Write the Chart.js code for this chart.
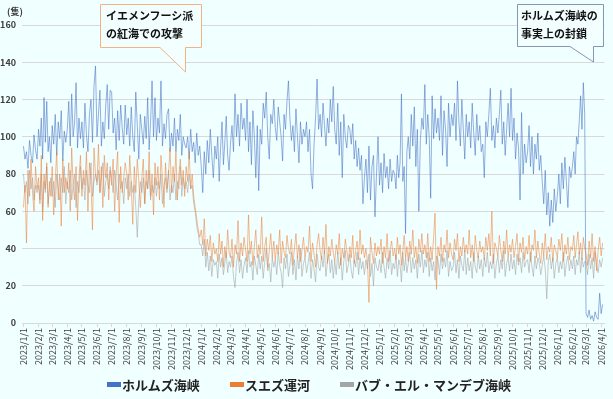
<!DOCTYPE html>
<html><head><meta charset="utf-8">
<script src="https://cdn.jsdelivr.net/npm/chart.js@4"></script>
<style>
html,body{margin:0;padding:0;background:#F0FFFF;}
#wrap{position:relative;width:613px;height:399px;background:#F0FFFF;font-family:'Noto Sans CJK JP',sans-serif;}
#c{position:absolute;left:0;top:0;}
.t{position:absolute;font-weight:bold;color:#111;white-space:nowrap;}
.co{font-size:11px;line-height:18px;}
.lg{position:absolute;top:376px;height:17px;display:flex;align-items:center;font-size:13px;font-weight:bold;color:#222;white-space:nowrap;}
.lg i{display:inline-block;width:14px;height:5px;margin-right:1px;}
</style></head>
<body><div id="wrap">
<canvas id="c" width="613" height="399"></canvas>
<svg width="613" height="399" style="position:absolute;left:0;top:0">
<path d="M100.5,4.5 H201.5 V47.5 H185.5 V72 L160,47.5 H100.5 Z" fill="#F3FFFF" stroke="#F4B183" stroke-width="1"/>
<path d="M517.5,4.5 H603.5 V46.5 H593.5 V62 L570,46.5 H517.5 Z" fill="#F3FFFF" stroke="#8497B0" stroke-width="1"/>
</svg>
<div class="t co" style="left:106px;top:6px">イエメンフーシ派<br>の紅海での攻撃</div>
<div class="t co" style="left:521px;top:6px">ホルムズ海峡の<br>事実上の封鎖</div>
<div class="t" style="left:7px;top:5px;font-size:9px;color:#404040">(隻)</div>
<div class="lg" style="left:107px"><i style="background:#4472C4"></i>ホルムズ海峡</div>
<div class="lg" style="left:230px"><i style="background:#ED7D31"></i>スエズ運河</div>
<div class="lg" style="left:340px"><i style="background:#A5A5A5"></i>バブ・エル・マンデブ海峡</div>
</div>
<script>
// Month tick labels (x axis)
const tickLabels = [
 "2023/1/1","2023/2/1","2023/3/1","2023/4/1","2023/5/1","2023/6/1","2023/7/1","2023/8/1","2023/9/1","2023/10/1","2023/11/1","2023/12/1",
 "2024/1/1","2024/2/1","2024/3/1","2024/4/1","2024/5/1","2024/6/1","2024/7/1","2024/8/1","2024/9/1","2024/10/1","2024/11/1","2024/12/1",
 "2025/1/1","2025/2/1","2025/3/1","2025/4/1","2025/5/1","2025/6/1","2025/7/1","2025/8/1","2025/9/1","2025/10/1","2025/11/1","2025/12/1",
 "2026/1/1","2026/2/1","2026/3/1","2026/4/1"];
const seriesNames = ["ホルムズ海峡","スエズ運河","バブ・エル・マンデブ海峡"];
// Values: 10 readings per month (about every 3 days), starting 2023/1/1
const hormuz = [
 95,88,92,83,98,90,86,101,93,88,
 104,95,110,88,121,97,119,92,100,86,
 106,96,112,90,108,99,114,87,103,97,
 104,119,95,123,100,108,129,94,110,99,
 108,94,118,101,92,112,120,97,127,138,
 100,112,125,95,108,99,117,128,104,125,
 124,102,110,93,114,98,117,105,96,117,
 101,110,95,116,100,92,124,106,88,112,
 104,96,111,99,121,93,108,130,100,121,
 98,110,102,130,95,107,99,112,115,92,
 102,95,110,92,104,98,112,90,100,96,
 94,100,88,104,92,97,86,102,90,95,
 84,70,92,80,98,86,104,90,78,95,
 88,100,76,94,108,85,97,111,90,82,
 96,106,92,123,100,112,95,118,104,110,
 98,120,92,108,85,114,100,78,106,71,
 104,96,118,110,124,100,88,112,107,120,
 105,98,116,108,100,87,112,104,119,130,
 110,98,106,92,115,100,86,108,96,104,
 100,108,92,104,80,72,96,110,131,104,
 112,100,118,106,95,110,102,120,108,127,
 104,96,118,90,108,78,112,100,94,106,
 104,96,107,88,98,84,94,82,90,64,
 78,88,70,95,66,84,90,57,80,100,
 74,86,70,91,78,84,72,88,76,82,
 80,72,90,78,86,123,76,84,48,92,
 100,88,112,95,116,84,104,60,98,110,
 104,128,96,112,100,67,122,99,115,102,
 110,98,122,90,114,104,84,118,100,112,
 106,118,98,130,108,95,120,104,88,112,
 100,108,94,118,102,90,112,98,106,92,
 96,78,108,100,112,126,98,106,94,110,
 102,112,125,96,108,90,104,118,100,126,
 98,110,88,102,94,66,113,80,96,86,
 92,106,84,100,80,96,88,102,82,90,
 76,64,82,58,70,52,66,54,72,60,
 68,80,64,86,72,89,76,62,84,78,
 84,92,80,100,96,108,122,104,129,112,
 5,3,7,2,4,1,6,3,2,16,
 5,10];
const suez = [
 62,74,43,82,68,88,70,60,84,72,
 78,64,90,55,80,72,86,62,76,68,
 84,58,76,92,66,80,52,88,70,78,
 72,86,60,94,74,66,84,55,78,90,
 68,82,74,92,60,86,76,50,94,80,
 76,96,70,84,62,90,78,86,66,82,
 74,88,60,80,92,54,84,70,78,86,
 80,66,90,74,53,84,70,88,76,62,
 78,88,64,82,72,92,68,80,58,86,
 74,84,66,90,78,62,86,72,80,94,
 70,84,76,92,66,80,88,74,82,68,
 84,76,92,72,80,68,62,56,50,46,
 50,42,56,36,45,39,47,33,43,37,
 40,33,48,37,44,30,41,35,50,38,
 35,45,30,42,37,55,33,43,36,46,
 39,33,58,37,44,31,41,50,35,42,
 37,57,33,41,46,30,39,48,35,44,
 34,42,37,50,32,44,38,35,47,40,
 37,45,31,40,48,35,42,33,39,46,
 35,41,38,52,33,43,37,30,42,48,
 39,34,46,37,53,32,41,36,45,38,
 33,42,37,48,31,40,35,45,39,33,
 41,35,47,32,39,44,34,50,37,42,
 35,40,33,11,46,38,32,43,36,41,
 37,45,32,41,35,48,33,39,44,36,
 40,34,46,37,42,31,39,47,35,41,
 33,44,37,50,35,41,32,45,38,48,
 37,42,35,48,33,41,34,46,59,18,
 41,36,46,33,42,38,50,35,43,37,
 34,45,39,48,33,41,36,46,38,42,
 37,50,35,42,33,47,39,35,44,38,
 41,34,46,39,48,36,60,32,43,40,
 36,47,39,33,44,37,50,35,42,38,
 45,35,41,48,33,43,38,46,34,41,
 37,47,33,42,39,50,35,44,37,32,
 43,36,48,34,41,38,46,33,42,39,
 35,45,39,48,33,42,37,46,34,41,
 39,47,35,42,49,37,43,34,46,40,
 37,31,44,35,48,33,41,28,39,46,
 36,43];
const babElMandeb = [
 80,70,76,64,82,72,78,66,74,70,
 74,66,80,60,76,70,84,64,72,78,
 68,76,62,80,72,66,78,70,84,64,
 76,70,82,66,74,80,62,76,70,84,
 72,78,66,82,74,70,86,68,76,80,
 74,82,70,78,86,68,76,80,72,84,
 78,70,82,74,66,80,72,76,64,78,
 72,80,68,76,70,74,62,46,66,76,
 70,78,64,76,72,82,66,74,70,78,
 68,76,72,80,64,74,78,70,82,66,
 74,70,80,66,76,72,84,68,78,72,
 76,70,80,72,74,64,60,52,48,42,
 42,36,45,30,38,28,36,25,34,31,
 33,24,37,30,35,26,32,38,27,33,
 30,36,25,19,32,38,27,34,24,31,
 35,27,39,30,33,23,36,31,26,37,
 29,36,24,33,40,28,32,22,35,30,
 34,26,38,31,27,19,35,29,37,25,
 31,38,26,34,23,36,29,40,25,32,
 35,27,32,38,24,34,29,22,37,30,
 28,36,30,39,25,33,37,27,34,24,
 33,26,38,29,35,23,33,39,27,31,
 37,28,24,34,30,38,26,35,29,33,
 26,34,29,37,25,32,20,35,30,28,
 34,27,38,30,24,35,29,39,26,32,
 29,37,25,34,31,22,38,28,35,27,
 32,38,27,35,29,34,24,37,30,39,
 27,34,30,38,25,35,28,33,23,36,
 34,26,37,29,35,30,39,25,33,28,
 30,38,27,34,24,36,31,28,39,26,
 35,28,33,24,38,30,27,36,29,34,
 25,35,30,38,27,33,29,37,24,32,
 36,27,34,29,39,25,32,35,28,37,
 29,34,26,37,31,35,27,38,30,33,
 34,27,38,30,25,36,29,35,32,26,
 31,36,29,13,33,37,29,35,24,32,
 35,27,33,29,38,25,32,36,28,34,
 29,36,26,34,31,38,27,35,30,33,
 33,26,37,29,35,24,38,31,27,34,
 30,35];

// positions (days since first label) derived from tick labels
function dayOf(s){const p=s.split('/').map(Number);return Date.UTC(p[0],p[1]-1,p[2]);}
const t0 = dayOf(tickLabels[0]);
const tickDays = tickLabels.map(s => (dayOf(s)-t0)/86400000);
function monthLen(m){ return m+1 < tickDays.length ? tickDays[m+1]-tickDays[m] : 30; }
function toPoints(arr){
  return arr.map((v,i)=>{const m=Math.floor(i/10), j=i%10; return {x: tickDays[m] + j*monthLen(m)/10, y: v};});
}
const FONT = "'Noto Sans CJK JP', sans-serif";
new Chart(document.getElementById('c'), {
  type: 'line',
  data: { datasets: [
    {label: seriesNames[0], data: toPoints(hormuz), borderColor: 'rgba(68,114,196,0.8)', borderWidth: 0.7, pointRadius: 0, order: 3},
    {label: seriesNames[1], data: toPoints(suez), borderColor: 'rgba(237,125,49,0.75)', borderWidth: 0.7, pointRadius: 0, order: 1},
    {label: seriesNames[2], data: toPoints(babElMandeb), borderColor: 'rgba(165,165,165,0.85)', borderWidth: 0.7, pointRadius: 0, order: 2}
  ]},
  options: {
    responsive: false, animation: false,
    layout: { padding: {left: 0, right: 7, top: 25, bottom: 0} },
    plugins: { legend: {display: false}, tooltip: {enabled: false} },
    elements: { line: { tension: 0 } },
    scales: {
      x: {
        type: 'linear', min: -3, max: 1193,
        afterBuildTicks: s => { s.ticks = tickDays.map(v => ({value: v})); },
        afterFit: s => { s.height = 76; },
        ticks: { autoSkip: false, minRotation: 90, maxRotation: 90, padding: 1,
                 callback: (v, i) => tickLabels[i], font: {family: FONT, size: 9}, color: '#404040' },
        grid: { drawOnChartArea: false, tickLength: 4, color: '#D9D9D9' },
        border: { color: '#D9D9D9' }
      },
      y: {
        min: 0, max: 160,
        afterFit: s => { s.width = 22; },
        ticks: { stepSize: 20, padding: 6, font: {family: FONT, size: 9, weight: 'bold'}, color: '#404040' },
        grid: { color: '#D9D9D9', drawTicks: false },
        border: { display: false }
      }
    }
  }
});
</script>
</body></html>
